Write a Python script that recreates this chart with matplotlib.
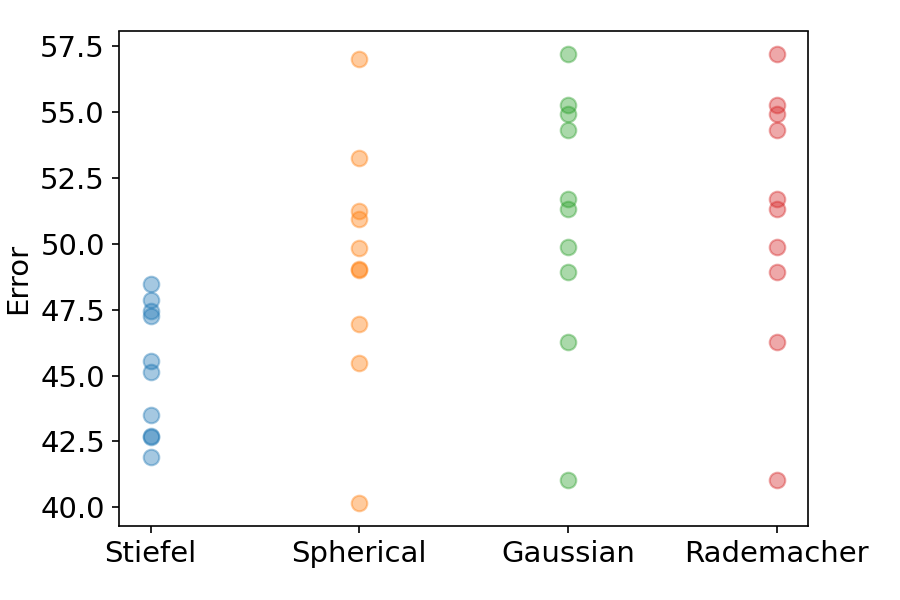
import matplotlib
matplotlib.use("Agg")
import matplotlib.pyplot as plt

# errors per sampling method
stiefel = [48.48, 47.87, 47.46, 47.27, 45.55, 45.13, 43.50, 42.70, 42.65, 41.90]
spherical = [57.00, 53.24, 51.22, 50.95, 49.85, 49.02, 48.99, 46.96, 45.48, 40.15]
gaussian = [57.19, 55.25, 54.91, 54.30, 51.68, 51.33, 49.89, 48.94, 46.28, 41.03]
rademacher = [57.19, 55.25, 54.91, 54.30, 51.68, 51.33, 49.89, 48.94, 46.28, 41.03]

methods = ["Stiefel", "Spherical", "Gaussian", "Rademacher"]
errors = [stiefel, spherical, gaussian, rademacher]

plt.rcParams["font.size"] = 14
fig, ax = plt.subplots(figsize=(6, 4), dpi=150)

for name, vals in zip(methods, errors):
    ax.scatter([name] * len(vals), vals, s=56, alpha=0.4)

ax.set_ylabel("Error")
plt.tight_layout()
plt.savefig("out.png")
